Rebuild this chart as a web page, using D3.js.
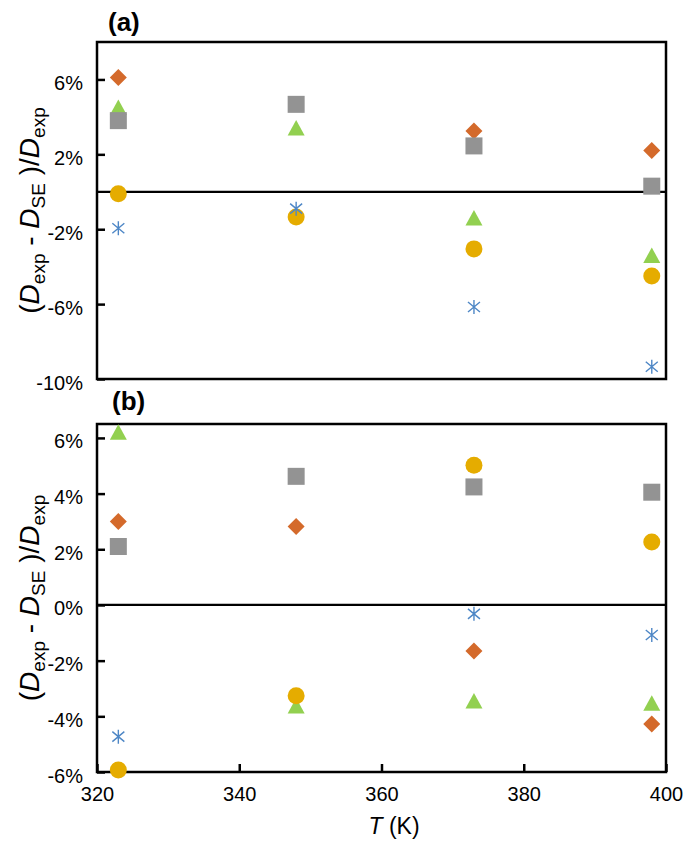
<!DOCTYPE html>
<html>
<head>
<meta charset="utf-8">
<script src="https://cdn.jsdelivr.net/npm/d3@7"></script>
<style>
  html, body { margin: 0; padding: 0; background: #fff; }
  svg { display: block; font-family: "Liberation Sans", Arial, sans-serif; }
</style>
</head>
<body>
<svg id="chart" width="685" height="843"></svg>
<script>
// ---- data ----
const temps = [323, 348, 373, 398];
const xTicks = [320, 340, 360, 380, 400];

// panel (a)
const diamondA  = [6.1, null, 3.25, 2.2];
const triangleA = [4.5, 3.4, -1.4, -3.4];
const squareA   = [3.8, 4.67, 2.45, 0.3];
const circleA   = [-0.1, -1.35, -3.05, -4.5];
const starA     = [-1.95, -0.9, -6.15, -9.35];
const yTicksA   = [-10, -6, -2, 2, 6];

// panel (b)
const diamondB  = [3.0, 2.82, -1.65, -4.28];
const triangleB = [6.2, -3.63, -3.45, -3.53];
const squareB   = [2.1, 4.62, 4.24, 4.05];
const circleB   = [-5.93, -3.26, 5.02, 2.26];
const starB     = [-4.73, null, -0.32, -1.08];
const yTicksB   = [-6, -4, -2, 0, 2, 4, 6];

// ---- styles ----
const colors = { diamond: "#D46A2B", triangle: "#92D050", square: "#939393", circle: "#E5AC00", star: "#4E87C6" };
const FONT = "'Liberation Sans', Arial, sans-serif";

const svg = d3.select("#chart");
const left = 97, right = 666;
const x = d3.scaleLinear().domain([320, 400]).range([left, right]);

function drawPanel(cfg) {
  const y = d3.scaleLinear().domain(cfg.domain).range([cfg.bottom, cfg.top]);
  const g = svg.append("g");

  // y axis ticks (inward)
  const ya = g.append("g").attr("transform", `translate(${left},0)`)
    .call(d3.axisLeft(y).tickValues(cfg.yTicks).tickSizeInner(-8).tickSizeOuter(0).tickPadding(14).tickFormat(d => d + "%"));
  ya.select(".domain").remove();
  ya.selectAll(".tick line").attr("stroke", "#000").attr("stroke-width", 2.5);
  ya.selectAll(".tick text").attr("font-size", 20).attr("fill", "#000")
    .attr("font-family", FONT).attr("dy", "0.5em");

  if (cfg.xAxis) {
    const xa = g.append("g").attr("transform", `translate(0,${cfg.bottom})`)
      .call(d3.axisBottom(x).tickValues(xTicks).tickSizeInner(-8).tickSizeOuter(0).tickFormat(d3.format("d")));
    xa.select(".domain").remove();
    xa.selectAll(".tick line").attr("stroke", "#000").attr("stroke-width", 2.5);
    xa.selectAll(".tick text").attr("font-size", 20).attr("fill", "#000")
      .attr("font-family", FONT).attr("y", 29).attr("dy", 0);
  }

  // frame
  g.append("rect").attr("x", left).attr("y", cfg.top)
    .attr("width", right - left).attr("height", cfg.bottom - cfg.top)
    .attr("fill", "none").attr("stroke", "#000").attr("stroke-width", 2.5);
  // zero line
  g.append("line").attr("x1", left).attr("x2", right)
    .attr("y1", y(0)).attr("y2", y(0)).attr("stroke", "#000").attr("stroke-width", 2.2);

  const pts = arr => temps.map((t, i) => ({ t, v: arr[i] })).filter(d => d.v !== null);

  // diamonds
  g.selectAll(null).data(pts(cfg.diamond)).join("path")
    .attr("d", "M0,-8.5L8.5,0L0,8.5L-8.5,0Z")
    .attr("transform", d => `translate(${x(d.t)},${y(d.v)})`)
    .attr("fill", colors.diamond);
  // triangles
  g.selectAll(null).data(pts(cfg.triangle)).join("path")
    .attr("d", "M0,-8L8.5,7.5L-8.5,7.5Z")
    .attr("transform", d => `translate(${x(d.t)},${y(d.v)})`)
    .attr("fill", colors.triangle);
  // squares
  g.selectAll(null).data(pts(cfg.square)).join("rect")
    .attr("x", d => x(d.t) - 8.5).attr("y", d => y(d.v) - 8.5)
    .attr("width", 17).attr("height", 17)
    .attr("fill", colors.square);
  // circles
  g.selectAll(null).data(pts(cfg.circle)).join("circle")
    .attr("cx", d => x(d.t)).attr("cy", d => y(d.v)).attr("r", 8.5)
    .attr("fill", colors.circle);
  // stars
  g.selectAll(null).data(pts(cfg.star)).join("path")
    .attr("d", "M0,-7L0,7M-6,-5L6,5M-6,5L6,-5")
    .attr("transform", d => `translate(${x(d.t)},${y(d.v)})`)
    .attr("fill", "none").attr("stroke", colors.star).attr("stroke-width", 1.4);

  // panel label
  svg.append("text").attr("x", cfg.labelX).attr("y", cfg.labelY)
    .attr("font-size", 26).attr("font-weight", "bold").attr("fill", "#000")
    .text(cfg.label);

  // y title
  const cy = (cfg.top + cfg.bottom) / 2;
  const tt = svg.append("text").attr("transform", `translate(39,${cy}) rotate(-90)`)
    .attr("text-anchor", "middle").attr("font-size", 28).attr("fill", "#000");
  const parts = [
    ["(", false, false], ["D", true, false], ["exp", false, true],
    [" - ", false, false], ["D", true, false], ["SE", false, true],
    [" )/", false, false], ["D", true, false], ["exp", false, true]
  ];
  let prevSub = false;
  parts.forEach(([txt, it, sub]) => {
    const ts = tt.append("tspan").text(txt);
    if (it) ts.attr("font-style", "italic");
    if (sub) ts.attr("font-size", 19);
    if (sub && !prevSub) ts.attr("dy", 6);
    if (!sub && prevSub) ts.attr("dy", -6);
    prevSub = sub;
  });
}

drawPanel({
  top: 42, bottom: 379, domain: [-10, 8], yTicks: yTicksA, xAxis: false,
  diamond: diamondA, triangle: triangleA, square: squareA, circle: circleA, star: starA,
  label: "(a)", labelX: 108, labelY: 31
});
drawPanel({
  top: 424, bottom: 772, domain: [-6, 6.5], yTicks: yTicksB, xAxis: true,
  diamond: diamondB, triangle: triangleB, square: squareB, circle: circleB, star: starB,
  label: "(b)", labelX: 112, labelY: 410
});

// x title
const xt = svg.append("text").attr("x", 394).attr("y", 834).attr("text-anchor", "middle")
  .attr("font-size", 23).attr("fill", "#000");
xt.append("tspan").attr("font-style", "italic").text("T");
xt.append("tspan").text(" (K)");
</script>
</body>
</html>
